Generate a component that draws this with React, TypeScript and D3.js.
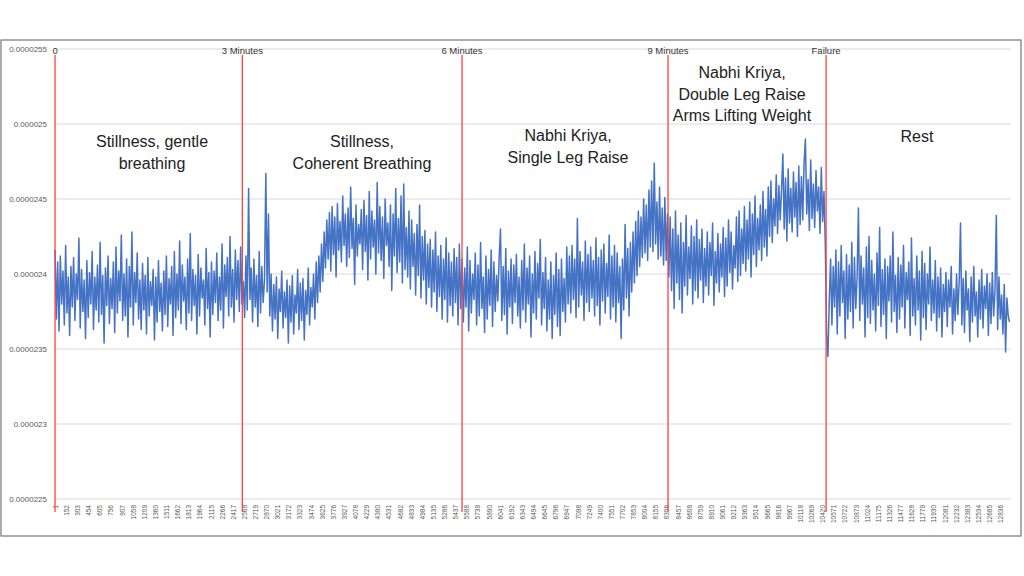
// @ts-nocheck
import { useEffect, useRef } from 'react'
import * as d3 from 'd3'

// x axis: one category per reading, Excel shows every 151st label
const pointCount = 12980
const labelInterval = 151
// the trace below keeps one reading in every 18
const sampleStep = 18

const yTicks = [0.0000225, 0.000023, 0.0000235, 0.000024, 0.0000245, 0.000025, 0.0000255]
const yTickLabels = ['0.0000225', '0.000023', '0.0000235', '0.000024', '0.0000245', '0.000025', '0.0000255']

const eventIndex = [1, 2544, 5527, 8324, 10470]
const eventLabels = ['0', '3 Minutes', '6 Minutes', '9 Minutes', 'Failure']

const phaseLabels = [
  ['Stillness, gentle', 'breathing'],
  ['Stillness,', 'Coherent Breathing'],
  ['Nabhi Kriya,', 'Single Leg Raise'],
  ['Nabhi Kriya,', 'Double Leg Raise', 'Arms Lifting Weight'],
  ['Rest'],
]

// readings, in units of 1e-8
const stillness = [
  2416, 2370, 2408, 2362, 2412, 2380, 2402, 2366, 2419, 2374, 2398, 2359, 2405, 2378, 2411, 2369, 2400, 2383, 2424, 2364,
  2403, 2375, 2396, 2357, 2409, 2371, 2401, 2380, 2415, 2363, 2398, 2376, 2406, 2368, 2421, 2373, 2399, 2354, 2404, 2379,
  2412, 2367, 2397, 2377, 2408, 2361, 2418, 2374, 2402, 2382, 2426, 2369, 2400, 2372, 2410, 2358, 2405, 2378, 2428, 2366,
  2401, 2381, 2414, 2370, 2396, 2363, 2407, 2376, 2399, 2360, 2411, 2372, 2395, 2379, 2403, 2356, 2398, 2368, 2409, 2375,
  2394, 2362, 2402, 2373, 2412, 2365, 2397, 2380, 2405, 2359, 2415, 2371, 2400, 2376, 2422, 2367, 2406, 2382, 2398, 2363,
  2410, 2374, 2427, 2369, 2403, 2379, 2399, 2360, 2413, 2372, 2404, 2384, 2396, 2366, 2417, 2377, 2401, 2358, 2408, 2373,
  2402, 2381, 2414, 2369, 2398, 2376, 2420, 2364, 2406, 2385, 2411, 2372, 2425, 2378, 2403, 2368, 2416, 2383, 2409, 2375,
  2418, 2380,
]
const coherent = [
  2395, 2371, 2412, 2376, 2457, 2383, 2404, 2368, 2410, 2378, 2399, 2365, 2415, 2374, 2405, 2381, 2396, 2467, 2388, 2440,
  2372, 2400, 2362, 2393, 2370, 2398, 2357, 2390, 2375, 2402, 2364, 2388, 2371, 2396, 2354, 2392, 2368, 2399, 2360, 2386,
  2374, 2403, 2363, 2394, 2369, 2397, 2356, 2389, 2373, 2404, 2366, 2391, 2378, 2400, 2370, 2408, 2381, 2412, 2388, 2420,
  2395, 2428, 2404, 2436, 2410, 2441, 2402, 2445, 2413, 2438, 2398, 2447, 2416, 2435, 2408, 2452, 2419, 2440, 2405, 2444,
  2411, 2458, 2417, 2437, 2393, 2446, 2412, 2433, 2420, 2443, 2403, 2449, 2415, 2439, 2396, 2455, 2410, 2442, 2418, 2436,
  2400, 2461, 2414, 2445, 2409, 2438, 2397, 2450, 2419, 2434, 2405, 2446, 2389, 2440, 2412, 2457, 2401, 2437, 2408, 2452,
  2394, 2460, 2403, 2431, 2398, 2442, 2390, 2436, 2405, 2427, 2386, 2433, 2399, 2446, 2384, 2425, 2396, 2429, 2380, 2420,
  2391, 2423, 2378, 2416, 2388, 2428, 2375, 2412, 2385, 2419, 2370, 2410, 2383, 2424, 2368, 2414, 2379, 2408, 2372, 2417,
  2381, 2411, 2366, 2420, 2377,
]
const singleLeg = [
  2410, 2368, 2404, 2378, 2418, 2362, 2409, 2374, 2400, 2383, 2414, 2366, 2406, 2372, 2421, 2377, 2398, 2361, 2412, 2370,
  2403, 2379, 2416, 2365, 2408, 2375, 2399, 2382, 2411, 2430, 2369, 2405, 2373, 2417, 2360, 2402, 2378, 2410, 2367, 2406,
  2381, 2413, 2372, 2398, 2364, 2409, 2376, 2420, 2368, 2404, 2380, 2412, 2358, 2400, 2374, 2415, 2370, 2407, 2384, 2423,
  2366, 2401, 2377, 2411, 2362, 2396, 2370, 2408, 2357, 2399, 2373, 2414, 2365, 2403, 2359, 2410, 2375, 2397, 2368, 2418,
  2380, 2412, 2374, 2419, 2383, 2410, 2371, 2437, 2378, 2415, 2386, 2408, 2369, 2422, 2381, 2413, 2375, 2418, 2384, 2409,
  2372, 2424, 2379, 2411, 2366, 2416, 2382, 2420, 2374, 2407, 2385, 2426, 2370, 2412, 2378, 2419, 2368, 2414, 2381, 2405,
  2357, 2410, 2376, 2433, 2384, 2417, 2372, 2421, 2388, 2428, 2394, 2435, 2399, 2442, 2405, 2438, 2411, 2450, 2414, 2446,
  2409, 2456, 2418, 2462, 2415, 2474, 2420, 2448, 2410, 2458, 2412, 2444, 2406, 2451, 2409, 2440,
]
const doubleLeg = [
  2398, 2438, 2389, 2430, 2377, 2442, 2394, 2426, 2383, 2434, 2374, 2421, 2392, 2439, 2386, 2418, 2397, 2432, 2380, 2425,
  2389, 2436, 2384, 2423, 2396, 2430, 2381, 2417, 2392, 2428, 2386, 2421, 2399, 2434, 2379, 2415, 2394, 2427, 2388, 2420,
  2398, 2431, 2385, 2424, 2392, 2436, 2401, 2428, 2390, 2419, 2404, 2438, 2395, 2442, 2399, 2430, 2407, 2445, 2402, 2436,
  2410, 2448, 2398, 2440, 2413, 2452, 2405, 2437, 2416, 2446, 2409, 2455, 2418, 2443, 2412, 2458, 2425, 2462, 2421, 2450,
  2432, 2466, 2427, 2459, 2436, 2456, 2480, 2430, 2464, 2422, 2470, 2434, 2457, 2428, 2468, 2438, 2461, 2425, 2472, 2433,
  2465, 2436, 2474, 2490, 2440, 2463, 2429, 2476, 2437, 2460, 2431, 2469, 2442, 2458, 2427, 2471, 2435, 2455, 2420,
]
const rest = [
  2360, 2345, 2382,
  2410, 2366, 2405, 2378, 2416, 2360, 2408, 2372, 2419, 2381, 2402, 2357, 2413, 2370, 2406, 2375, 2421, 2364, 2411, 2377,
  2398, 2444, 2369, 2412, 2380, 2404, 2358, 2418, 2371, 2425, 2367, 2409, 2376, 2400, 2362, 2414, 2379, 2431, 2365, 2403,
  2373, 2410, 2357, 2405, 2382, 2412, 2368, 2428, 2375, 2399, 2361, 2411, 2370, 2406, 2378, 2419, 2364, 2401, 2383, 2408,
  2359, 2424, 2372, 2397, 2366, 2412, 2376, 2402, 2356, 2415, 2371, 2407, 2363, 2400, 2380, 2418, 2369, 2396, 2374, 2409,
  2362, 2398, 2371, 2404, 2358, 2393, 2375, 2401, 2365, 2396, 2378, 2405, 2360, 2390, 2369, 2400, 2373, 2395, 2434, 2366,
  2397, 2361, 2402, 2376, 2390, 2355, 2398, 2368, 2405, 2372, 2388, 2358, 2396, 2370, 2403, 2364, 2392, 2377, 2400, 2359,
  2394, 2367, 2401, 2372, 2389, 2439, 2363, 2398, 2370, 2386, 2360, 2393, 2348, 2384, 2372, 2368,
]

export default function App() {
  const svgRef = useRef<any>()

  useEffect(() => {
    const svg = d3.select(svgRef.current)
    svg.selectAll('*').remove()

    const left = 55
    const right = 1011
    const top = 49
    const bottom = 499

    const xScale = d3.scaleLinear().domain([0.5, pointCount + 0.5]).range([left, right])
    const yScale = d3.scaleLinear().domain([0.0000225, 0.0000255]).range([bottom, top])

    // outer frame
    svg
      .append('rect')
      .attr('x', 1)
      .attr('y', 40)
      .attr('width', 1020)
      .attr('height', 496)
      .attr('fill', 'none')
      .attr('stroke', '#767676')
      .attr('stroke-width', 1.2)

    // horizontal gridlines
    svg
      .append('g')
      .selectAll('line')
      .data(yTicks)
      .enter()
      .append('line')
      .attr('x1', left)
      .attr('x2', right)
      .attr('y1', (d) => yScale(d))
      .attr('y2', (d) => yScale(d))
      .attr('stroke', '#d9d9d9')
      .attr('stroke-width', 1)

    // y labels
    svg
      .append('g')
      .selectAll('text')
      .data(yTicks)
      .enter()
      .append('text')
      .attr('x', 47)
      .attr('y', (d) => yScale(d))
      .attr('dy', '0.35em')
      .attr('text-anchor', 'end')
      .attr('font-family', 'Liberation Sans, Arial, sans-serif')
      .attr('font-size', 8)
      .attr('fill', '#595959')
      .text((d, i) => yTickLabels[i])

    // x axis, rotated labels
    const xAxis = d3
      .axisBottom(xScale)
      .tickValues(d3.range(1, pointCount + 1, labelInterval))
      .tickSize(0)
      .tickFormat(d3.format('d'))
    const gx = svg.append('g').attr('transform', `translate(0,${bottom})`).call(xAxis)
    gx.select('.domain').remove()
    gx.selectAll('text')
      .attr('transform', 'rotate(-90)')
      .attr('text-anchor', 'end')
      .attr('x', -6)
      .attr('y', 0)
      .attr('dy', '0.35em')
      .attr('font-family', 'Liberation Sans, Arial, sans-serif')
      .attr('font-size', 6.5)
      .attr('fill', '#595959')

    // the trace
    const signal = [...stillness, ...coherent, ...singleLeg, ...doubleLeg, ...rest]
    const line = d3
      .line<number>()
      .x((d, k) => xScale(1 + k * sampleStep))
      .y((d) => yScale(d * 1e-8))
    svg
      .append('path')
      .datum(signal)
      .attr('d', line)
      .attr('fill', 'none')
      .attr('stroke', '#4472c4')
      .attr('stroke-width', 1.5)
      .attr('stroke-linejoin', 'round')

    // event markers
    const ev = svg.append('g')
    ev.selectAll('line')
      .data(eventIndex)
      .enter()
      .append('line')
      .attr('x1', (d) => xScale(d))
      .attr('x2', (d) => xScale(d))
      .attr('y1', 55)
      .attr('y2', 512)
      .attr('stroke', '#ff4040')
      .attr('stroke-width', 1.3)
    ev.selectAll('text')
      .data(eventIndex)
      .enter()
      .append('text')
      .attr('x', (d) => xScale(d))
      .attr('y', 54)
      .attr('text-anchor', 'middle')
      .attr('font-family', 'Liberation Sans, Arial, sans-serif')
      .attr('font-size', 9.5)
      .attr('fill', '#333')
      .text((d, i) => eventLabels[i])

    // phase annotations
    const phaseX = [152, 362, 568, 742, 917]
    const phaseY = [147, 147, 141, 78, 142]
    const lineGap = 21.5
    phaseLabels.forEach((lines, i) => {
      svg
        .append('text')
        .attr('text-anchor', 'middle')
        .attr('font-family', 'Liberation Sans, Arial, sans-serif')
        .attr('font-size', 16)
        .attr('fill', '#222')
        .selectAll('tspan')
        .data(lines)
        .enter()
        .append('tspan')
        .attr('x', phaseX[i])
        .attr('y', (d, j) => phaseY[i] + j * lineGap)
        .text((d) => d)
    })
  }, [])

  return (
    <svg
      ref={svgRef}
      width={1024}
      height={576}
      style={{ position: 'absolute', left: 0, top: 0, background: '#fff' }}
    ></svg>
  )
}
